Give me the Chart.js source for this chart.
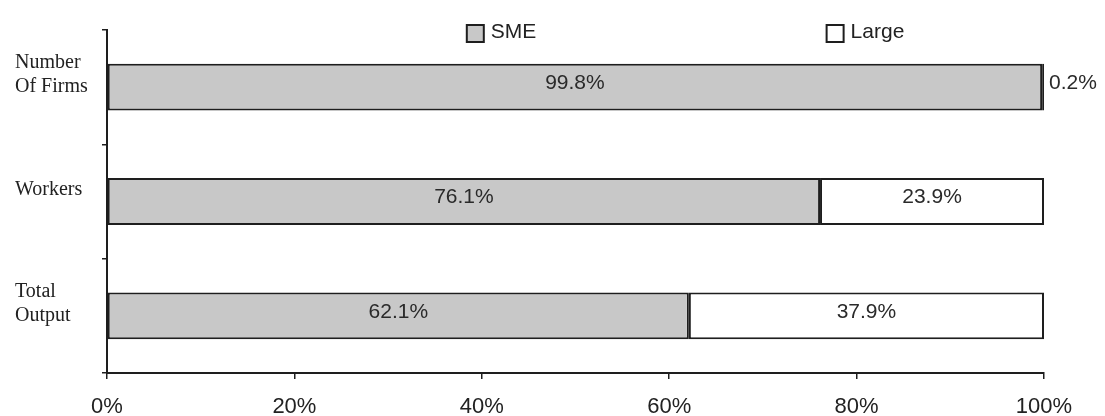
<!DOCTYPE html>
<html>
<head>
<meta charset="utf-8">
<script src="https://cdn.jsdelivr.net/npm/chart.js@4/dist/chart.umd.min.js"></script>
<style>
  html, body { margin: 0; padding: 0; background: #fff; }
  #wrap { width: 1105px; height: 416px; }
</style>
</head>
<body>
<div id="wrap"><canvas id="chart" width="1105" height="416"></canvas></div>
<script>
const categories = [["Number", "Of Firms"], "Workers", ["Total", "Output"]];
const smeShare = [99.8, 76.1, 62.1];
const largeShare = [0.2, 23.9, 37.9];
const xTicks = [0, 20, 40, 60, 80, 100];

const SME_FILL = "#c8c8c8";
const LARGE_FILL = "#ffffff";
const INK = "#1e1e1e";
const SANS = "'Liberation Sans', Arial, sans-serif";

// draws the percentage inside each segment (or just outside when too thin)
const segmentLabels = {
    id: "segmentLabels",
    afterDatasetsDraw(chart) {
        const ctx = chart.ctx;
        ctx.save();
        ctx.font = "21px " + SANS;
        ctx.fillStyle = "#2a2a2a";
        ctx.textBaseline = "middle";
        chart.data.datasets.forEach((ds, di) => {
            chart.getDatasetMeta(di).data.forEach((bar, i) => {
                const text = ds.data[i].toFixed(1) + "%";
                const w = Math.abs(bar.x - bar.base);
                if (w < 40) {
                    ctx.textAlign = "left";
                    ctx.fillText(text, bar.x + 5, bar.y - 4);
                } else {
                    ctx.textAlign = "center";
                    ctx.fillText(text, (bar.x + bar.base) / 2, bar.y - 4);
                }
            });
        });
        ctx.restore();
    }
};

// legend at the top, items far apart like the original
const topLegend = {
    id: "topLegend",
    afterDraw(chart) {
        const ctx = chart.ctx;
        const area = chart.chartArea;
        const xs = [0.384, 0.768].map(f => area.left + f * (area.right - area.left));
        ctx.save();
        ctx.font = "21px " + SANS;
        ctx.textBaseline = "middle";
        ctx.textAlign = "left";
        chart.data.datasets.forEach((ds, di) => {
            const x = xs[di];
            ctx.fillStyle = ds.backgroundColor;
            ctx.fillRect(x, 25, 17, 17);
            ctx.strokeStyle = INK;
            ctx.lineWidth = 2;
            ctx.strokeRect(x, 25, 17, 17);
            ctx.fillStyle = "#222";
            ctx.fillText(ds.label, x + 24, 32);
        });
        ctx.restore();
    }
};

new Chart(document.getElementById("chart"), {
    type: "bar",
    data: {
        labels: categories,
        datasets: [{
            label: "SME",
            data: smeShare,
            backgroundColor: SME_FILL,
            borderColor: INK,
            borderWidth: 2,
            borderSkipped: false
        }, {
            label: "Large",
            data: largeShare,
            backgroundColor: LARGE_FILL,
            borderColor: INK,
            borderWidth: 2,
            borderSkipped: false
        }]
    },
    options: {
        indexAxis: "y",
        responsive: false,
        animation: false,
        barPercentage: 0.41,
        categoryPercentage: 1,
        layout: { padding: { left: 15, right: 61, top: 30, bottom: 0 } },
        plugins: {
            legend: { display: false },
            tooltip: { enabled: false }
        },
        scales: {
            x: {
                stacked: true,
                min: 0,
                max: 100,
                afterBuildTicks: scale => { scale.ticks = xTicks.map(v => ({ value: v })); },
                afterFit: scale => { scale.height = 43; },
                border: { color: INK, width: 2 },
                grid: { drawOnChartArea: false, tickLength: 6, color: INK, lineWidth: 1.5 },
                ticks: {
                    padding: 15,
                    color: "#222",
                    font: { family: SANS, size: 22 },
                    callback: v => v + "%"
                }
            },
            y: {
                stacked: true,
                afterFit: scale => { scale.width = 92; },
                border: { color: INK, width: 2 },
                grid: { drawOnChartArea: false, tickLength: 5, color: INK, lineWidth: 1.5 },
                ticks: {
                    crossAlign: "far",
                    labelOffset: -12,
                    color: "#222",
                    font: { family: "'Liberation Serif', 'Times New Roman', serif", size: 20, lineHeight: 1.2 }
                }
            }
        }
    },
    plugins: [segmentLabels, topLegend]
});
</script>
</body>
</html>
